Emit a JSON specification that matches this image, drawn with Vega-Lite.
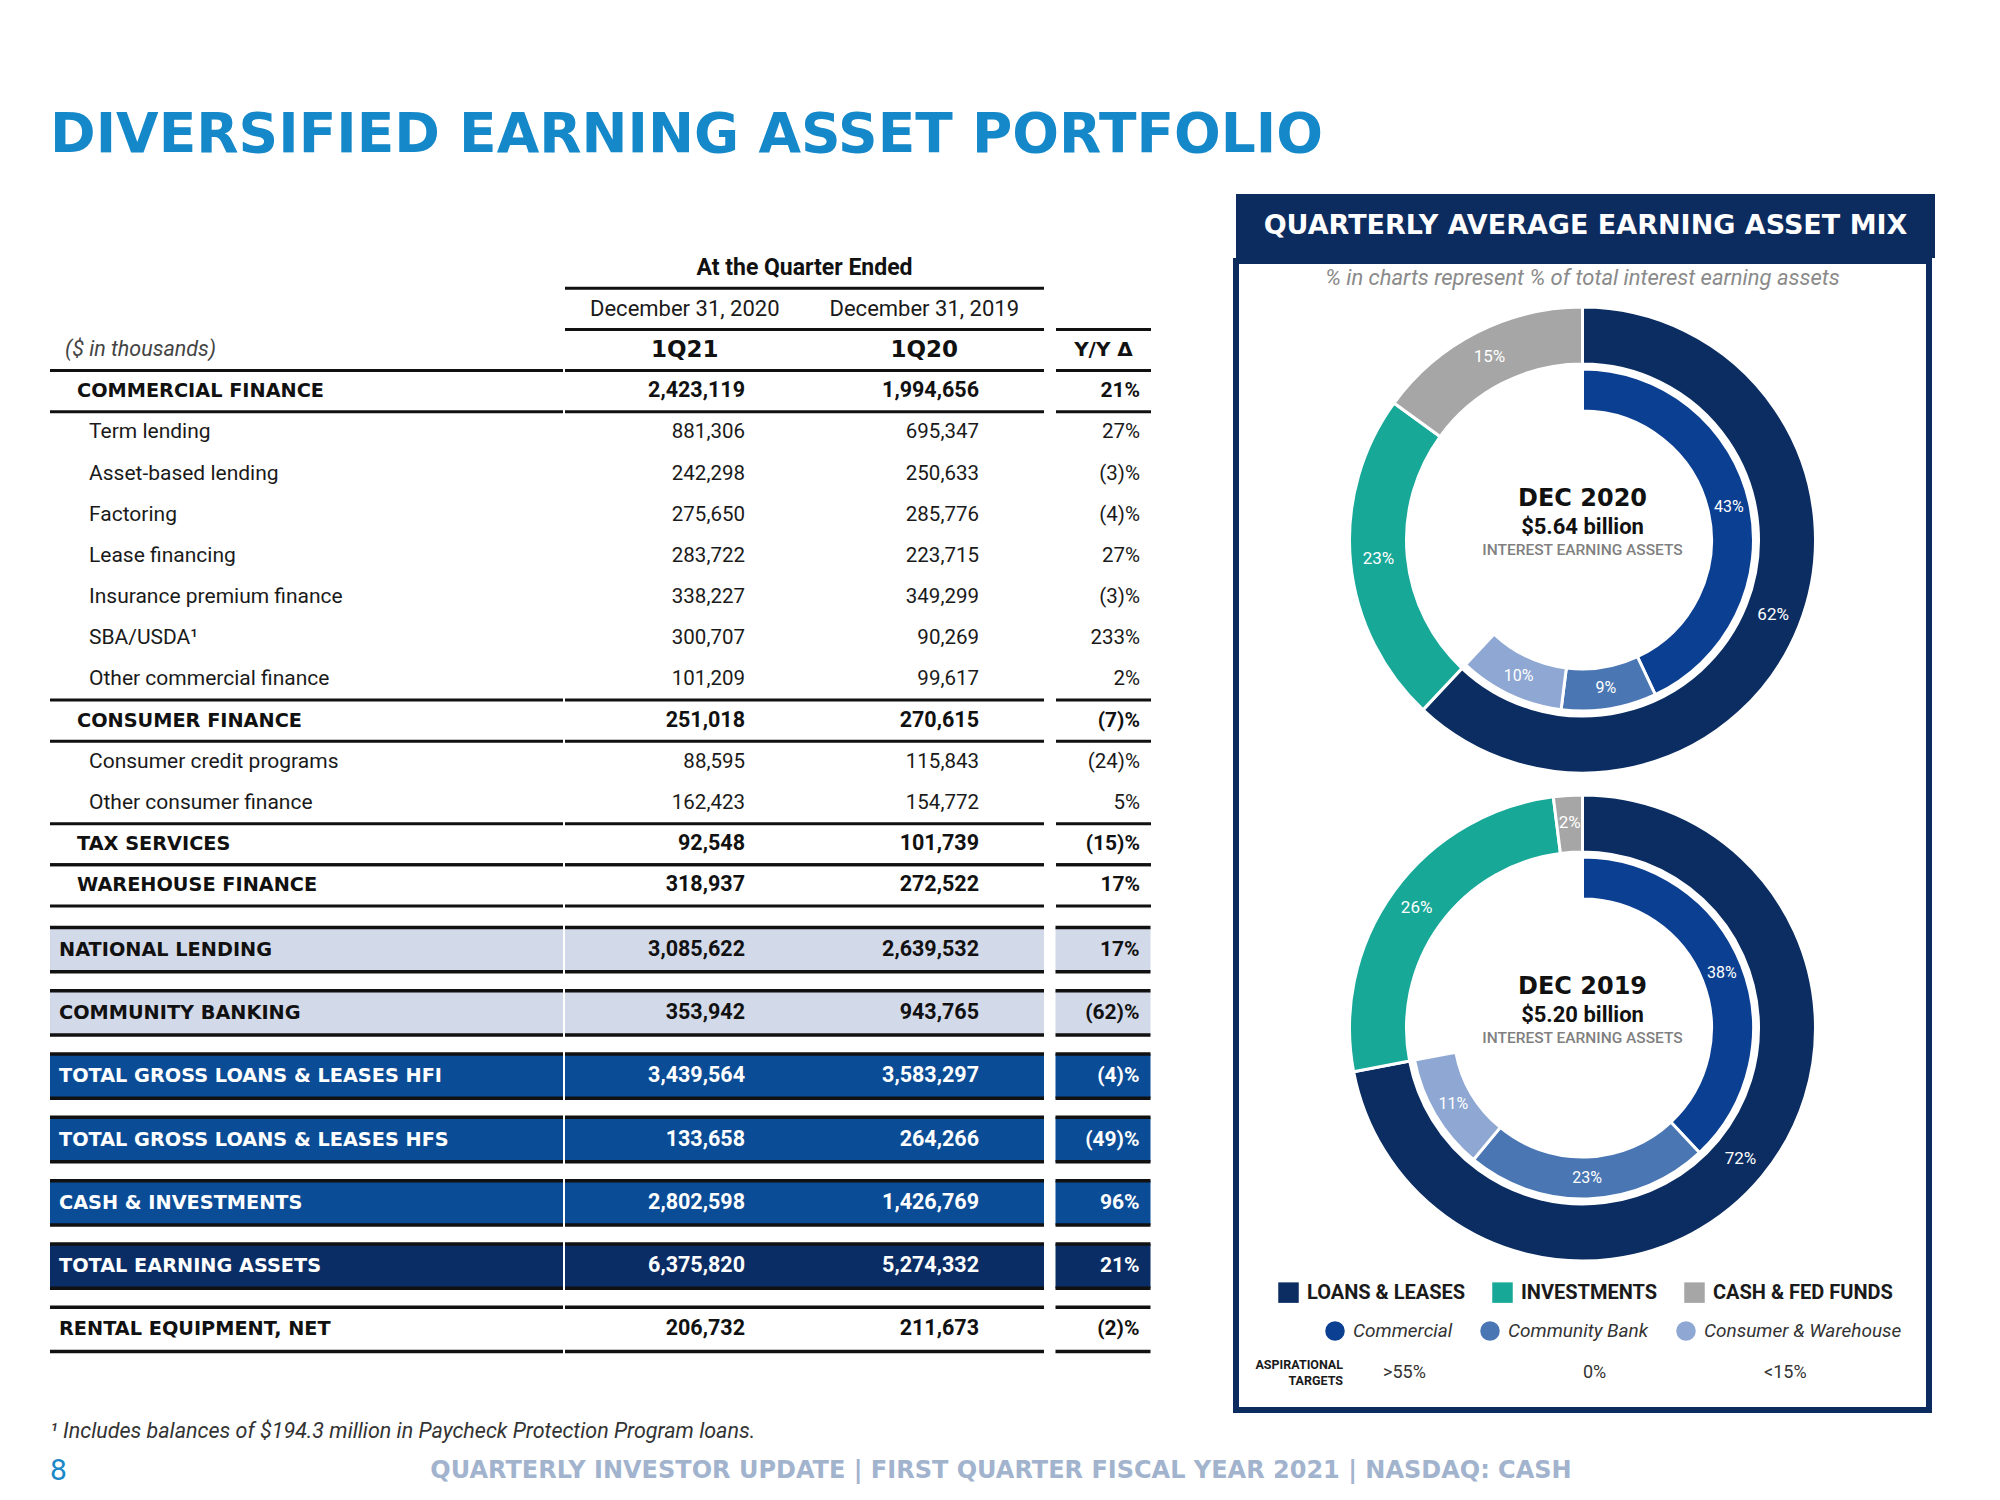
{
"$schema":"https://vega.github.io/schema/vega-lite/v6.json",
"background":"#ffffff",
"padding":{"left":48,"top":108,"right":0,"bottom":0},
"title":{"text":"DIVERSIFIED EARNING ASSET PORTFOLIO","anchor":"start","frame":"group","font":"DejaVu Sans","fontSize":55,"fontWeight":"bold","color":"#1488c9","offset":30},
"config":{"view":{"stroke":null},"font":"Roboto","text":{"font":"Roboto","fontSize":20,"color":"#1a1a1a"}},
"datasets":{
"top":[
{"row":"At the Quarter Ended","kind":"span"},
{"row":"dates","kind":"dates","c21":"December 31, 2020","c20":"December 31, 2019"},
{"row":"($ in thousands)","kind":"header","c21":"1Q21","c20":"1Q20","yy":"Y/Y Δ"},
{"row":"COMMERCIAL FINANCE","kind":"section","c21":2423119,"c20":1994656,"yy":"21%"},
{"row":"Term lending","kind":"item","c21":881306,"c20":695347,"yy":"27%"},
{"row":"Asset-based lending","kind":"item","c21":242298,"c20":250633,"yy":"(3)%"},
{"row":"Factoring","kind":"item","c21":275650,"c20":285776,"yy":"(4)%"},
{"row":"Lease financing","kind":"item","c21":283722,"c20":223715,"yy":"27%"},
{"row":"Insurance premium finance","kind":"item","c21":338227,"c20":349299,"yy":"(3)%"},
{"row":"SBA/USDA¹","kind":"item","c21":300707,"c20":90269,"yy":"233%"},
{"row":"Other commercial finance","kind":"item","c21":101209,"c20":99617,"yy":"2%"},
{"row":"CONSUMER FINANCE","kind":"section","c21":251018,"c20":270615,"yy":"(7)%"},
{"row":"Consumer credit programs","kind":"item","c21":88595,"c20":115843,"yy":"(24)%"},
{"row":"Other consumer finance","kind":"item","c21":162423,"c20":154772,"yy":"5%"},
{"row":"TAX SERVICES","kind":"section","c21":92548,"c20":101739,"yy":"(15)%"},
{"row":"WAREHOUSE FINANCE","kind":"section","c21":318937,"c20":272522,"yy":"17%"}
],
"bottom":[
{"row":"NATIONAL LENDING","kind":"segment","c21":3085622,"c20":2639532,"yy":"17%"},
{"row":"COMMUNITY BANKING","kind":"segment","c21":353942,"c20":943765,"yy":"(62)%"},
{"row":"TOTAL GROSS LOANS & LEASES HFI","kind":"aggregate","c21":3439564,"c20":3583297,"yy":"(4)%"},
{"row":"TOTAL GROSS LOANS & LEASES HFS","kind":"aggregate","c21":133658,"c20":264266,"yy":"(49)%"},
{"row":"CASH & INVESTMENTS","kind":"aggregate","c21":2802598,"c20":1426769,"yy":"96%"},
{"row":"TOTAL EARNING ASSETS","kind":"total","c21":6375820,"c20":5274332,"yy":"21%"},
{"row":"RENTAL EQUIPMENT, NET","kind":"memo","c21":206732,"c20":211673,"yy":"(2)%"}
],
"outer":[
{"period":"DEC 2020","seg":"Loans & Leases","pct":0.62},
{"period":"DEC 2020","seg":"Investments","pct":0.23},
{"period":"DEC 2020","seg":"Cash & Fed Funds","pct":0.15},
{"period":"DEC 2019","seg":"Loans & Leases","pct":0.72},
{"period":"DEC 2019","seg":"Investments","pct":0.26},
{"period":"DEC 2019","seg":"Cash & Fed Funds","pct":0.02}
],
"inner":[
{"period":"DEC 2020","seg":"Commercial","pct":0.43},
{"period":"DEC 2020","seg":"Community Bank","pct":0.09},
{"period":"DEC 2020","seg":"Consumer & Warehouse","pct":0.10},
{"period":"DEC 2019","seg":"Commercial","pct":0.38},
{"period":"DEC 2019","seg":"Community Bank","pct":0.23},
{"period":"DEC 2019","seg":"Consumer & Warehouse","pct":0.11}
],
"centers":[
{"period":"DEC 2020","amount":"$5.64 billion","caption":"INTEREST EARNING ASSETS"},
{"period":"DEC 2019","amount":"$5.20 billion","caption":"INTEREST EARNING ASSETS"}
],
"targets":[
{"seg":"Commercial","target":">55%"},
{"seg":"Community Bank","target":"0%"},
{"seg":"Consumer & Warehouse","target":"<15%"}
],
"panel":[{"title":"QUARTERLY AVERAGE EARNING ASSET MIX"}],
"footer":[{"text":"QUARTERLY INVESTOR UPDATE | FIRST QUARTER FISCAL YEAR 2021 | NASDAQ: CASH"}]
},
"spacing":6,
"resolve":{"scale":{"color":"independent","fill":"independent","shape":"independent","theta":"independent"},"legend":{"color":"independent","fill":"independent","shape":"independent"}},
"vconcat":[
{"hconcat":[
{"vconcat":[
{"width":1098,"height":43,"data":{"values":[]},"mark":"point"},
{"hconcat":[
{"hconcat":[
{"width":513,"height":659,"data":{"name":"top"},"layer":[
{"transform":[{"filter":"datum.kind==='header'||datum.kind==='section'"}],"mark":{"type":"rule","color":"#111111","strokeWidth":3},"encoding":{"y":{"field":"row","type":"nominal","bandPosition":1,"scale":{"domain":["At the Quarter Ended","dates","($ in thousands)","COMMERCIAL FINANCE","Term lending","Asset-based lending","Factoring","Lease financing","Insurance premium finance","SBA/USDA¹","Other commercial finance","CONSUMER FINANCE","Consumer credit programs","Other consumer finance","TAX SERVICES","WAREHOUSE FINANCE"],"paddingInner":0,"paddingOuter":0},"axis":null}}},
{"transform":[{"filter":"datum.kind==='section'"}],"mark":{"type":"rule","color":"#111111","strokeWidth":3},"encoding":{"y":{"field":"row","type":"nominal","bandPosition":0,"scale":{"domain":["At the Quarter Ended","dates","($ in thousands)","COMMERCIAL FINANCE","Term lending","Asset-based lending","Factoring","Lease financing","Insurance premium finance","SBA/USDA¹","Other commercial finance","CONSUMER FINANCE","Consumer credit programs","Other consumer finance","TAX SERVICES","WAREHOUSE FINANCE"],"paddingInner":0,"paddingOuter":0},"axis":null}}},
{"transform":[{"filter":"datum.kind==='header'"}],"mark":{"type":"text","align":"left","fontStyle":"italic","fontSize":21.5,"color":"#444444"},"encoding":{"y":{"field":"row","type":"nominal","scale":{"domain":["At the Quarter Ended","dates","($ in thousands)","COMMERCIAL FINANCE","Term lending","Asset-based lending","Factoring","Lease financing","Insurance premium finance","SBA/USDA¹","Other commercial finance","CONSUMER FINANCE","Consumer credit programs","Other consumer finance","TAX SERVICES","WAREHOUSE FINANCE"],"paddingInner":0,"paddingOuter":0},"axis":null},"x":{"field":"kind","type":"nominal","scale":{"type":"point","domain":["header","section","item"],"range":[9,45]},"axis":null},"text":{"field":"row"}}},
{"transform":[{"filter":"datum.kind==='section'"}],"mark":{"type":"text","align":"left","font":"DejaVu Sans","fontWeight":"bold","fontSize":19.3,"color":"#111111"},"encoding":{"y":{"field":"row","type":"nominal","scale":{"domain":["At the Quarter Ended","dates","($ in thousands)","COMMERCIAL FINANCE","Term lending","Asset-based lending","Factoring","Lease financing","Insurance premium finance","SBA/USDA¹","Other commercial finance","CONSUMER FINANCE","Consumer credit programs","Other consumer finance","TAX SERVICES","WAREHOUSE FINANCE"],"paddingInner":0,"paddingOuter":0},"axis":null},"x":{"field":"kind","type":"nominal","scale":{"type":"point","domain":["header","section","item"],"range":[9,45]},"axis":null},"text":{"field":"row"}}},
{"transform":[{"filter":"datum.kind==='item'"}],"mark":{"type":"text","align":"left","fontSize":21,"color":"#1a1a1a"},"encoding":{"y":{"field":"row","type":"nominal","scale":{"domain":["At the Quarter Ended","dates","($ in thousands)","COMMERCIAL FINANCE","Term lending","Asset-based lending","Factoring","Lease financing","Insurance premium finance","SBA/USDA¹","Other commercial finance","CONSUMER FINANCE","Consumer credit programs","Other consumer finance","TAX SERVICES","WAREHOUSE FINANCE"],"paddingInner":0,"paddingOuter":0},"axis":null},"x":{"field":"kind","type":"nominal","scale":{"type":"point","domain":["header","section","item"],"range":[9,45]},"axis":null},"text":{"field":"row"}}}
]},
{"width":479,"height":659,"data":{"name":"top"},"resolve":{"scale":{"x":"independent"}},"layer":[
{"transform":[{"filter":"datum.kind==='header'||datum.kind==='section'"}],"mark":{"type":"rule","color":"#111111","strokeWidth":3},"encoding":{"y":{"field":"row","type":"nominal","bandPosition":0,"scale":{"domain":["At the Quarter Ended","dates","($ in thousands)","COMMERCIAL FINANCE","Term lending","Asset-based lending","Factoring","Lease financing","Insurance premium finance","SBA/USDA¹","Other commercial finance","CONSUMER FINANCE","Consumer credit programs","Other consumer finance","TAX SERVICES","WAREHOUSE FINANCE"],"paddingInner":0,"paddingOuter":0},"axis":null}}},
{"transform":[{"filter":"datum.kind==='span'||datum.kind==='header'||datum.kind==='section'"}],"mark":{"type":"rule","color":"#111111","strokeWidth":3},"encoding":{"y":{"field":"row","type":"nominal","bandPosition":1,"scale":{"domain":["At the Quarter Ended","dates","($ in thousands)","COMMERCIAL FINANCE","Term lending","Asset-based lending","Factoring","Lease financing","Insurance premium finance","SBA/USDA¹","Other commercial finance","CONSUMER FINANCE","Consumer credit programs","Other consumer finance","TAX SERVICES","WAREHOUSE FINANCE"],"paddingInner":0,"paddingOuter":0},"axis":null}}},
{"transform":[{"filter":"datum.kind==='span'"}],"mark":{"type":"text","fontWeight":"bold","fontSize":23,"color":"#111111"},"encoding":{"y":{"field":"row","type":"nominal","scale":{"domain":["At the Quarter Ended","dates","($ in thousands)","COMMERCIAL FINANCE","Term lending","Asset-based lending","Factoring","Lease financing","Insurance premium finance","SBA/USDA¹","Other commercial finance","CONSUMER FINANCE","Consumer credit programs","Other consumer finance","TAX SERVICES","WAREHOUSE FINANCE"],"paddingInner":0,"paddingOuter":0},"axis":null},"text":{"field":"row"}}},
{"transform":[{"filter":"datum.kind==='dates'"},{"fold":["c21","c20"],"as":["col","val"]}],"mark":{"type":"text","align":"center","fontSize":22,"color":"#1a1a1a"},"encoding":{"y":{"field":"row","type":"nominal","scale":{"domain":["At the Quarter Ended","dates","($ in thousands)","COMMERCIAL FINANCE","Term lending","Asset-based lending","Factoring","Lease financing","Insurance premium finance","SBA/USDA¹","Other commercial finance","CONSUMER FINANCE","Consumer credit programs","Other consumer finance","TAX SERVICES","WAREHOUSE FINANCE"],"paddingInner":0,"paddingOuter":0},"axis":null},"x":{"field":"col","type":"nominal","scale":{"domain":["c21","c20"],"paddingInner":0,"paddingOuter":0},"axis":null},"text":{"field":"val"}}},
{"transform":[{"filter":"datum.kind==='header'"},{"fold":["c21","c20"],"as":["col","val"]}],"mark":{"type":"text","align":"center","font":"DejaVu Sans","fontWeight":"bold","fontSize":23,"color":"#111111"},"encoding":{"y":{"field":"row","type":"nominal","scale":{"domain":["At the Quarter Ended","dates","($ in thousands)","COMMERCIAL FINANCE","Term lending","Asset-based lending","Factoring","Lease financing","Insurance premium finance","SBA/USDA¹","Other commercial finance","CONSUMER FINANCE","Consumer credit programs","Other consumer finance","TAX SERVICES","WAREHOUSE FINANCE"],"paddingInner":0,"paddingOuter":0},"axis":null},"x":{"field":"col","type":"nominal","scale":{"domain":["c21","c20"],"paddingInner":0,"paddingOuter":0},"axis":null},"text":{"field":"val"}}},
{"transform":[{"filter":"datum.kind==='section'"},{"fold":["c21","c20"],"as":["col","val"]}],"mark":{"type":"text","align":"right","fontWeight":"bold","fontSize":21.5,"color":"#111111"},"encoding":{"y":{"field":"row","type":"nominal","scale":{"domain":["At the Quarter Ended","dates","($ in thousands)","COMMERCIAL FINANCE","Term lending","Asset-based lending","Factoring","Lease financing","Insurance premium finance","SBA/USDA¹","Other commercial finance","CONSUMER FINANCE","Consumer credit programs","Other consumer finance","TAX SERVICES","WAREHOUSE FINANCE"],"paddingInner":0,"paddingOuter":0},"axis":null},"x":{"field":"col","type":"nominal","scale":{"type":"point","domain":["c21","c20"],"range":[180,414],"padding":0},"axis":null},"text":{"field":"val","type":"quantitative","format":","}}},
{"transform":[{"filter":"datum.kind==='item'"},{"fold":["c21","c20"],"as":["col","val"]}],"mark":{"type":"text","align":"right","fontSize":20.5,"color":"#1a1a1a"},"encoding":{"y":{"field":"row","type":"nominal","scale":{"domain":["At the Quarter Ended","dates","($ in thousands)","COMMERCIAL FINANCE","Term lending","Asset-based lending","Factoring","Lease financing","Insurance premium finance","SBA/USDA¹","Other commercial finance","CONSUMER FINANCE","Consumer credit programs","Other consumer finance","TAX SERVICES","WAREHOUSE FINANCE"],"paddingInner":0,"paddingOuter":0},"axis":null},"x":{"field":"col","type":"nominal","scale":{"type":"point","domain":["c21","c20"],"range":[180,414],"padding":0},"axis":null},"text":{"field":"val","type":"quantitative","format":","}}}
]}
],"spacing":-3},
{"width":95,"height":659,"data":{"name":"top"},"layer":[
{"transform":[{"filter":"datum.kind==='header'||datum.kind==='section'"}],"mark":{"type":"rule","color":"#111111","strokeWidth":3},"encoding":{"y":{"field":"row","type":"nominal","bandPosition":0,"scale":{"domain":["At the Quarter Ended","dates","($ in thousands)","COMMERCIAL FINANCE","Term lending","Asset-based lending","Factoring","Lease financing","Insurance premium finance","SBA/USDA¹","Other commercial finance","CONSUMER FINANCE","Consumer credit programs","Other consumer finance","TAX SERVICES","WAREHOUSE FINANCE"],"paddingInner":0,"paddingOuter":0},"axis":null}}},
{"transform":[{"filter":"datum.kind==='header'||datum.kind==='section'"}],"mark":{"type":"rule","color":"#111111","strokeWidth":3},"encoding":{"y":{"field":"row","type":"nominal","bandPosition":1,"scale":{"domain":["At the Quarter Ended","dates","($ in thousands)","COMMERCIAL FINANCE","Term lending","Asset-based lending","Factoring","Lease financing","Insurance premium finance","SBA/USDA¹","Other commercial finance","CONSUMER FINANCE","Consumer credit programs","Other consumer finance","TAX SERVICES","WAREHOUSE FINANCE"],"paddingInner":0,"paddingOuter":0},"axis":null}}},
{"transform":[{"filter":"datum.kind==='header'"}],"mark":{"type":"text","font":"DejaVu Sans","fontWeight":"bold","fontSize":20,"color":"#111111"},"encoding":{"y":{"field":"row","type":"nominal","scale":{"domain":["At the Quarter Ended","dates","($ in thousands)","COMMERCIAL FINANCE","Term lending","Asset-based lending","Factoring","Lease financing","Insurance premium finance","SBA/USDA¹","Other commercial finance","CONSUMER FINANCE","Consumer credit programs","Other consumer finance","TAX SERVICES","WAREHOUSE FINANCE"],"paddingInner":0,"paddingOuter":0},"axis":null},"text":{"field":"yy"}}},
{"transform":[{"filter":"datum.kind==='section'"},{"fold":["yy"],"as":["col","val"]}],"mark":{"type":"text","align":"right","fontWeight":"bold","fontSize":21,"color":"#111111"},"encoding":{"y":{"field":"row","type":"nominal","scale":{"domain":["At the Quarter Ended","dates","($ in thousands)","COMMERCIAL FINANCE","Term lending","Asset-based lending","Factoring","Lease financing","Insurance premium finance","SBA/USDA¹","Other commercial finance","CONSUMER FINANCE","Consumer credit programs","Other consumer finance","TAX SERVICES","WAREHOUSE FINANCE"],"paddingInner":0,"paddingOuter":0},"axis":null},"x":{"field":"col","type":"nominal","scale":{"type":"point","domain":["yy"],"range":[84,84],"padding":0},"axis":null},"text":{"field":"val"}}},
{"transform":[{"filter":"datum.kind==='item'"},{"fold":["yy"],"as":["col","val"]}],"mark":{"type":"text","align":"right","fontSize":20.5,"color":"#1a1a1a"},"encoding":{"y":{"field":"row","type":"nominal","scale":{"domain":["At the Quarter Ended","dates","($ in thousands)","COMMERCIAL FINANCE","Term lending","Asset-based lending","Factoring","Lease financing","Insurance premium finance","SBA/USDA¹","Other commercial finance","CONSUMER FINANCE","Consumer credit programs","Other consumer finance","TAX SERVICES","WAREHOUSE FINANCE"],"paddingInner":0,"paddingOuter":0},"axis":null},"x":{"field":"col","type":"nominal","scale":{"type":"point","domain":["yy"],"range":[84,84],"padding":0},"axis":null},"text":{"field":"val"}}}
]}
],"spacing":8},
{"hconcat":[
{"hconcat":[
{"width":513,"height":443,"data":{"name":"bottom"},"layer":[
{"transform":[{"filter":"datum.kind!=='memo'"}],"mark":{"type":"rect"},"encoding":{"y":{"field":"row","type":"nominal","scale":{"domain":["NATIONAL LENDING","COMMUNITY BANKING","TOTAL GROSS LOANS & LEASES HFI","TOTAL GROSS LOANS & LEASES HFS","CASH & INVESTMENTS","TOTAL EARNING ASSETS","RENTAL EQUIPMENT, NET"],"paddingInner":0.3,"paddingOuter":0.15},"axis":null},"color":{"field":"kind","type":"nominal","scale":{"domain":["segment","aggregate","total"],"range":["#d2d9e9","#0b4c96","#0a2d66"]},"legend":null}}},
{"mark":{"type":"rule","color":"#111111","strokeWidth":3.5},"encoding":{"y":{"field":"row","type":"nominal","bandPosition":0,"scale":{"domain":["NATIONAL LENDING","COMMUNITY BANKING","TOTAL GROSS LOANS & LEASES HFI","TOTAL GROSS LOANS & LEASES HFS","CASH & INVESTMENTS","TOTAL EARNING ASSETS","RENTAL EQUIPMENT, NET"],"paddingInner":0.3,"paddingOuter":0.15},"axis":null}}},
{"mark":{"type":"rule","color":"#111111","strokeWidth":3.5},"encoding":{"y":{"field":"row","type":"nominal","bandPosition":1,"scale":{"domain":["NATIONAL LENDING","COMMUNITY BANKING","TOTAL GROSS LOANS & LEASES HFI","TOTAL GROSS LOANS & LEASES HFS","CASH & INVESTMENTS","TOTAL EARNING ASSETS","RENTAL EQUIPMENT, NET"],"paddingInner":0.3,"paddingOuter":0.15},"axis":null}}},
{"mark":{"type":"text","align":"left","font":"DejaVu Sans","fontWeight":"bold","fontSize":19.3},"encoding":{"y":{"field":"row","type":"nominal","scale":{"domain":["NATIONAL LENDING","COMMUNITY BANKING","TOTAL GROSS LOANS & LEASES HFI","TOTAL GROSS LOANS & LEASES HFS","CASH & INVESTMENTS","TOTAL EARNING ASSETS","RENTAL EQUIPMENT, NET"],"paddingInner":0.3,"paddingOuter":0.15},"axis":null},"x":{"field":"kind","type":"nominal","scale":{"type":"point","domain":["segment","aggregate","total","memo"],"range":[9,9]},"axis":null},"text":{"field":"row"},"color":{"condition":{"test":"datum.kind==='aggregate'||datum.kind==='total'","value":"#ffffff"},"value":"#111111"}}}
]},
{"width":479,"height":443,"data":{"name":"bottom"},"layer":[
{"transform":[{"filter":"datum.kind!=='memo'"}],"mark":{"type":"rect"},"encoding":{"y":{"field":"row","type":"nominal","scale":{"domain":["NATIONAL LENDING","COMMUNITY BANKING","TOTAL GROSS LOANS & LEASES HFI","TOTAL GROSS LOANS & LEASES HFS","CASH & INVESTMENTS","TOTAL EARNING ASSETS","RENTAL EQUIPMENT, NET"],"paddingInner":0.3,"paddingOuter":0.15},"axis":null},"color":{"field":"kind","type":"nominal","scale":{"domain":["segment","aggregate","total"],"range":["#d2d9e9","#0b4c96","#0a2d66"]},"legend":null}}},
{"mark":{"type":"rule","color":"#111111","strokeWidth":3.5},"encoding":{"y":{"field":"row","type":"nominal","bandPosition":0,"scale":{"domain":["NATIONAL LENDING","COMMUNITY BANKING","TOTAL GROSS LOANS & LEASES HFI","TOTAL GROSS LOANS & LEASES HFS","CASH & INVESTMENTS","TOTAL EARNING ASSETS","RENTAL EQUIPMENT, NET"],"paddingInner":0.3,"paddingOuter":0.15},"axis":null}}},
{"mark":{"type":"rule","color":"#111111","strokeWidth":3.5},"encoding":{"y":{"field":"row","type":"nominal","bandPosition":1,"scale":{"domain":["NATIONAL LENDING","COMMUNITY BANKING","TOTAL GROSS LOANS & LEASES HFI","TOTAL GROSS LOANS & LEASES HFS","CASH & INVESTMENTS","TOTAL EARNING ASSETS","RENTAL EQUIPMENT, NET"],"paddingInner":0.3,"paddingOuter":0.15},"axis":null}}},
{"transform":[{"fold":["c21","c20"],"as":["col","val"]}],"mark":{"type":"text","align":"right","fontWeight":"bold","fontSize":21.5},"encoding":{"y":{"field":"row","type":"nominal","scale":{"domain":["NATIONAL LENDING","COMMUNITY BANKING","TOTAL GROSS LOANS & LEASES HFI","TOTAL GROSS LOANS & LEASES HFS","CASH & INVESTMENTS","TOTAL EARNING ASSETS","RENTAL EQUIPMENT, NET"],"paddingInner":0.3,"paddingOuter":0.15},"axis":null},"x":{"field":"col","type":"nominal","scale":{"type":"point","domain":["c21","c20"],"range":[180,414],"padding":0},"axis":null},"text":{"field":"val","type":"quantitative","format":","},"color":{"condition":{"test":"datum.kind==='aggregate'||datum.kind==='total'","value":"#ffffff"},"value":"#111111"}}}
]}
],"spacing":-3.5},
{"width":95,"height":443,"data":{"name":"bottom"},"layer":[
{"transform":[{"filter":"datum.kind!=='memo'"}],"mark":{"type":"rect"},"encoding":{"y":{"field":"row","type":"nominal","scale":{"domain":["NATIONAL LENDING","COMMUNITY BANKING","TOTAL GROSS LOANS & LEASES HFI","TOTAL GROSS LOANS & LEASES HFS","CASH & INVESTMENTS","TOTAL EARNING ASSETS","RENTAL EQUIPMENT, NET"],"paddingInner":0.3,"paddingOuter":0.15},"axis":null},"color":{"field":"kind","type":"nominal","scale":{"domain":["segment","aggregate","total"],"range":["#d2d9e9","#0b4c96","#0a2d66"]},"legend":null}}},
{"mark":{"type":"rule","color":"#111111","strokeWidth":3.5},"encoding":{"y":{"field":"row","type":"nominal","bandPosition":0,"scale":{"domain":["NATIONAL LENDING","COMMUNITY BANKING","TOTAL GROSS LOANS & LEASES HFI","TOTAL GROSS LOANS & LEASES HFS","CASH & INVESTMENTS","TOTAL EARNING ASSETS","RENTAL EQUIPMENT, NET"],"paddingInner":0.3,"paddingOuter":0.15},"axis":null}}},
{"mark":{"type":"rule","color":"#111111","strokeWidth":3.5},"encoding":{"y":{"field":"row","type":"nominal","bandPosition":1,"scale":{"domain":["NATIONAL LENDING","COMMUNITY BANKING","TOTAL GROSS LOANS & LEASES HFI","TOTAL GROSS LOANS & LEASES HFS","CASH & INVESTMENTS","TOTAL EARNING ASSETS","RENTAL EQUIPMENT, NET"],"paddingInner":0.3,"paddingOuter":0.15},"axis":null}}},
{"transform":[{"fold":["yy"],"as":["col","val"]}],"mark":{"type":"text","align":"right","fontWeight":"bold","fontSize":21},"encoding":{"y":{"field":"row","type":"nominal","scale":{"domain":["NATIONAL LENDING","COMMUNITY BANKING","TOTAL GROSS LOANS & LEASES HFI","TOTAL GROSS LOANS & LEASES HFS","CASH & INVESTMENTS","TOTAL EARNING ASSETS","RENTAL EQUIPMENT, NET"],"paddingInner":0.3,"paddingOuter":0.15},"axis":null},"x":{"field":"col","type":"nominal","scale":{"type":"point","domain":["yy"],"range":[84,84],"padding":0},"axis":null},"text":{"field":"val"},"color":{"condition":{"test":"datum.kind==='aggregate'||datum.kind==='total'","value":"#ffffff"},"value":"#111111"}}}
]}
],"spacing":7.5}
],"spacing":10},
{"vconcat":[
{"width":699,"height":64,"view":{"fill":"#0c2b5e","stroke":null},"data":{"name":"panel"},"mark":{"type":"text","font":"DejaVu Sans","fontWeight":"bold","fontSize":27,"color":"#ffffff"},"encoding":{"text":{"field":"title"}}},
{"width":693,"height":1149,"view":{"fill":"#ffffff","stroke":"#0c2b5e","strokeWidth":6},
"title":{"text":"% in charts represent % of total interest earning assets","orient":"top","anchor":"middle","offset":-29,"font":"Roboto","fontSize":22,"fontStyle":"italic","fontWeight":"normal","color":"#8a8a8a"},
"layer":[
{"data":{"name":"outer"},"transform":[{"filter":"datum.period==='DEC 2020'"}],"mark":{"type":"arc","radius":233,"radius2":176,"stroke":"#ffffff","strokeWidth":3},"encoding":{"theta":{"field":"pct","type":"quantitative","stack":true,"scale":{"domain":[0,1]}},"order":{"field":"seg","type":"ordinal","sort":"descending"},"fill":{"field":"seg","type":"nominal","scale":{"domain":["Loans & Leases","Investments","Cash & Fed Funds"],"range":["#0b2d62","#17a898","#a6a6a6"]},"legend":{"orient":"none","legendX":42,"legendY":1088,"direction":"horizontal","symbolType":"square","symbolSize":420,"symbolStrokeWidth":0,"labelFont":"Roboto","labelFontWeight":"bold","labelFontSize":20,"labelColor":"#1a1a1a","labelExpr":"upper(datum.label)","labelOffset":8,"columnPadding":26,"labelLimit":400,"title":null}},"y":{"field":"period","type":"nominal","scale":{"type":"point","domain":["DEC 2020","DEC 2019"],"range":[279,767],"padding":0},"axis":null}}},
{"data":{"name":"outer"},"transform":[{"filter":"datum.period==='DEC 2019'"}],"mark":{"type":"arc","radius":233,"radius2":176,"stroke":"#ffffff","strokeWidth":3},"encoding":{"theta":{"field":"pct","type":"quantitative","stack":true,"scale":{"domain":[0,1]}},"order":{"field":"seg","type":"ordinal","sort":"descending"},"fill":{"field":"seg","type":"nominal","scale":{"domain":["Loans & Leases","Investments","Cash & Fed Funds"],"range":["#0b2d62","#17a898","#a6a6a6"]},"legend":{"orient":"none","legendX":42,"legendY":1088,"direction":"horizontal","symbolType":"square","symbolSize":420,"symbolStrokeWidth":0,"labelFont":"Roboto","labelFontWeight":"bold","labelFontSize":20,"labelColor":"#1a1a1a","labelExpr":"upper(datum.label)","labelOffset":8,"columnPadding":26,"labelLimit":400,"title":null}},"y":{"field":"period","type":"nominal","scale":{"type":"point","domain":["DEC 2020","DEC 2019"],"range":[279,767],"padding":0},"axis":null}}},
{"data":{"name":"inner"},"transform":[{"filter":"datum.period==='DEC 2020'"}],"mark":{"type":"arc","radius":171,"radius2":129,"stroke":"#ffffff","strokeWidth":3},"encoding":{"theta":{"field":"pct","type":"quantitative","stack":true,"scale":{"domain":[0,1]}},"order":{"field":"seg","type":"ordinal","sort":"ascending"},"color":{"field":"seg","type":"nominal","scale":{"domain":["Commercial","Community Bank","Consumer & Warehouse"],"range":["#0b3f92","#4a77b4","#8ea7d3"]},"legend":{"orient":"none","legendX":89,"legendY":1127,"direction":"horizontal","symbolType":"circle","symbolSize":380,"symbolStrokeWidth":0,"labelFont":"Roboto","labelFontStyle":"italic","labelFontSize":19,"labelColor":"#333333","labelOffset":8,"columnPadding":27,"labelLimit":400,"title":null}},"y":{"field":"period","type":"nominal","scale":{"type":"point","domain":["DEC 2020","DEC 2019"],"range":[279,767],"padding":0},"axis":null}}},
{"data":{"name":"inner"},"transform":[{"filter":"datum.period==='DEC 2019'"}],"mark":{"type":"arc","radius":171,"radius2":129,"stroke":"#ffffff","strokeWidth":3},"encoding":{"theta":{"field":"pct","type":"quantitative","stack":true,"scale":{"domain":[0,1]}},"order":{"field":"seg","type":"ordinal","sort":"ascending"},"color":{"field":"seg","type":"nominal","scale":{"domain":["Commercial","Community Bank","Consumer & Warehouse"],"range":["#0b3f92","#4a77b4","#8ea7d3"]},"legend":{"orient":"none","legendX":89,"legendY":1127,"direction":"horizontal","symbolType":"circle","symbolSize":380,"symbolStrokeWidth":0,"labelFont":"Roboto","labelFontStyle":"italic","labelFontSize":19,"labelColor":"#333333","labelOffset":8,"columnPadding":27,"labelLimit":400,"title":null}},"y":{"field":"period","type":"nominal","scale":{"type":"point","domain":["DEC 2020","DEC 2019"],"range":[279,767],"padding":0},"axis":null}}},
{"data":{"name":"outer"},"transform":[{"filter":"datum.period==='DEC 2020'"}],"mark":{"type":"text","radius":205,"fontSize":17,"color":"#ffffff"},"encoding":{"theta":{"field":"pct","type":"quantitative","stack":true,"scale":{"domain":[0,1]}},"order":{"field":"seg","type":"ordinal","sort":"descending"},"detail":{"field":"seg"},"text":{"field":"pct","type":"quantitative","format":".0%"},"y":{"field":"period","type":"nominal","scale":{"type":"point","domain":["DEC 2020","DEC 2019"],"range":[279,767],"padding":0},"axis":null}}},
{"data":{"name":"outer"},"transform":[{"filter":"datum.period==='DEC 2019'"}],"mark":{"type":"text","radius":205,"fontSize":17,"color":"#ffffff"},"encoding":{"theta":{"field":"pct","type":"quantitative","stack":true,"scale":{"domain":[0,1]}},"order":{"field":"seg","type":"ordinal","sort":"descending"},"detail":{"field":"seg"},"text":{"field":"pct","type":"quantitative","format":".0%"},"y":{"field":"period","type":"nominal","scale":{"type":"point","domain":["DEC 2020","DEC 2019"],"range":[279,767],"padding":0},"axis":null}}},
{"data":{"name":"inner"},"transform":[{"filter":"datum.period==='DEC 2020'"}],"mark":{"type":"text","radius":150,"fontSize":16,"color":"#ffffff"},"encoding":{"theta":{"field":"pct","type":"quantitative","stack":true,"scale":{"domain":[0,1]}},"order":{"field":"seg","type":"ordinal","sort":"ascending"},"detail":{"field":"seg"},"text":{"field":"pct","type":"quantitative","format":".0%"},"y":{"field":"period","type":"nominal","scale":{"type":"point","domain":["DEC 2020","DEC 2019"],"range":[279,767],"padding":0},"axis":null}}},
{"data":{"name":"inner"},"transform":[{"filter":"datum.period==='DEC 2019'"}],"mark":{"type":"text","radius":150,"fontSize":16,"color":"#ffffff"},"encoding":{"theta":{"field":"pct","type":"quantitative","stack":true,"scale":{"domain":[0,1]}},"order":{"field":"seg","type":"ordinal","sort":"ascending"},"detail":{"field":"seg"},"text":{"field":"pct","type":"quantitative","format":".0%"},"y":{"field":"period","type":"nominal","scale":{"type":"point","domain":["DEC 2020","DEC 2019"],"range":[279,767],"padding":0},"axis":null}}},
{"data":{"name":"centers"},"mark":{"type":"text","font":"DejaVu Sans","fontWeight":"bold","fontSize":24,"color":"#111111","dy":-41},"encoding":{"y":{"field":"period","type":"nominal","scale":{"type":"point","domain":["DEC 2020","DEC 2019"],"range":[279,767],"padding":0},"axis":null},"text":{"field":"period"}}},
{"data":{"name":"centers"},"mark":{"type":"text","fontWeight":"bold","fontSize":22,"color":"#111111","dy":-13},"encoding":{"y":{"field":"period","type":"nominal","scale":{"type":"point","domain":["DEC 2020","DEC 2019"],"range":[279,767],"padding":0},"axis":null},"text":{"field":"amount"}}},
{"data":{"name":"centers"},"mark":{"type":"text","fontWeight":500,"fontSize":15.5,"color":"#808080","dy":10},"encoding":{"y":{"field":"period","type":"nominal","scale":{"type":"point","domain":["DEC 2020","DEC 2019"],"range":[279,767],"padding":0},"axis":null},"text":{"field":"caption"}}},
{"data":{"name":"targets"},"mark":{"type":"point","opacity":0},"encoding":{"shape":{"field":"target","type":"nominal","sort":null,"legend":{"orient":"none","legendX":19,"legendY":1170,"direction":"horizontal","title":["ASPIRATIONAL","TARGETS"],"titleOrient":"left","titleAlign":"right","titleFont":"Roboto","titleFontWeight":"bold","titleFontSize":12.5,"titleColor":"#1a1a1a","titlePadding":-66,"titleLineHeight":16,"symbolSize":0,"symbolOpacity":0,"symbolStrokeWidth":0,"labelOffset":0,"labelFont":"Roboto","labelFontSize":18,"labelColor":"#333333","columnPadding":139}}}}
]}
],"spacing":0}
],"spacing":80,"resolve":{"scale":{"color":"independent","fill":"independent","shape":"independent","theta":"independent"},"legend":{"color":"independent","fill":"independent","shape":"independent"}}},
{"width":1902,"height":78,"data":{"name":"footer"},
"title":{"text":"¹ Includes balances of $194.3 million in Paycheck Protection Program loans.","subtitle":"8","orient":"top","anchor":"start","offset":-67,"font":"Roboto","fontSize":21.5,"fontStyle":"italic","fontWeight":"normal","color":"#333333","subtitleFont":"Roboto","subtitleFontSize":30,"subtitleColor":"#1a87c8","subtitlePadding":14},
"mark":{"type":"text","font":"DejaVu Sans","fontWeight":"bold","fontSize":24,"color":"#a2b3ce","dy":13},"encoding":{"text":{"field":"text"}}}
]
}
